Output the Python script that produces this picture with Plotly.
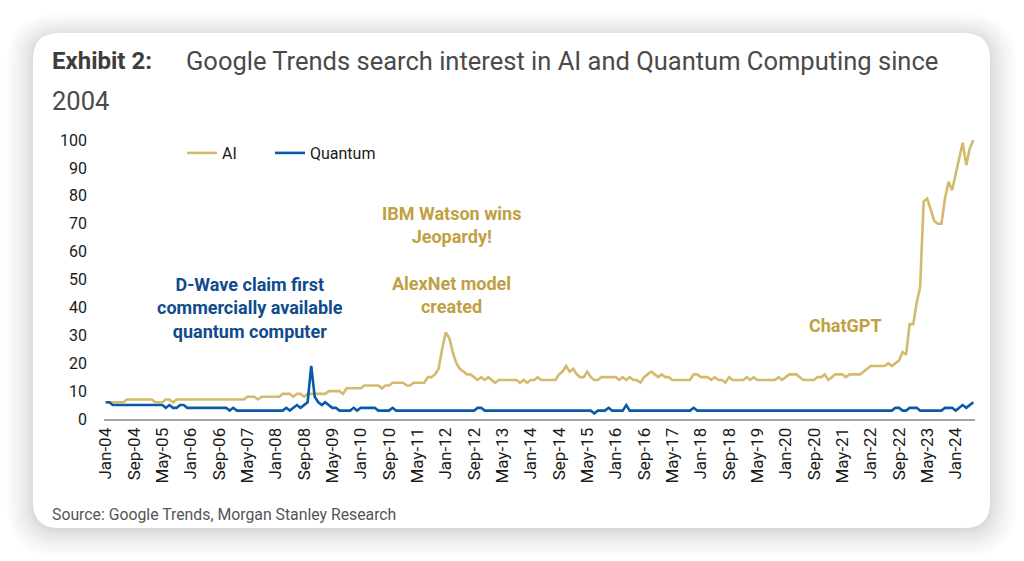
import pandas as pd
import plotly.graph_objects as go

W, H = 1024, 561
L, R, T, B = 104, 975, 140, 419  # plot area in pixels

months = pd.date_range("2004-01-01", periods=246, freq="MS")

ai = [
    6, 6, 6, 6, 6, 6, 7, 7, 7, 7, 7, 7,          # 2004
    7, 7, 6, 6, 6, 7, 7, 6, 7, 7, 7, 7,          # 2005
    7, 7, 7, 7, 7, 7, 7, 7, 7, 7, 7, 7,          # 2006
    7, 7, 7, 7, 8, 8, 8, 7, 8, 8, 8, 8,          # 2007
    8, 8, 9, 9, 9, 8, 9, 9, 8, 9, 9, 9,          # 2008
    9, 9, 9, 10, 10, 10, 10, 9, 11, 11, 11, 11,  # 2009
    11, 12, 12, 12, 12, 12, 11, 12, 12, 13, 13, 13,  # 2010
    13, 12, 12, 13, 13, 13, 13, 15, 15, 16, 18, 25,  # 2011
    31, 29, 24, 20, 18, 17, 16, 16, 15, 14, 15, 14,  # 2012
    15, 14, 13, 14, 14, 14, 14, 14, 14, 13, 14, 13,  # 2013
    14, 14, 15, 14, 14, 14, 14, 14, 16, 17, 19, 17,  # 2014
    18, 16, 15, 15, 17, 15, 14, 14, 15, 15, 15, 15,  # 2015
    15, 14, 15, 14, 15, 14, 14, 13, 15, 16, 17, 16,  # 2016
    15, 16, 15, 15, 14, 14, 14, 14, 14, 14, 16, 16,  # 2017
    15, 15, 15, 14, 15, 14, 14, 13, 15, 14, 14, 14,  # 2018
    14, 15, 14, 15, 14, 14, 14, 14, 14, 14, 15, 14,  # 2019
    15, 16, 16, 16, 15, 14, 14, 14, 14, 15, 15, 16,  # 2020
    14, 15, 16, 16, 16, 15, 16, 16, 16, 16, 17, 18,  # 2021
    19, 19, 19, 19, 19, 20, 19, 20, 21, 24, 23, 34,  # 2022
    34, 42, 47, 78, 79, 75, 71, 70, 70, 79, 85, 82,  # 2023
    88, 93, 99, 91, 97, 100,                         # 2024
]

quantum = [
    6, 6, 5, 5, 5, 5, 5, 5, 5, 5, 5, 5,   # 2004
    5, 5, 5, 5, 5, 4, 5, 4, 4, 5, 5, 4,   # 2005
    4, 4, 4, 4, 4, 4, 4, 4, 4, 4, 4, 3,   # 2006
    4, 3, 3, 3, 3, 3, 3, 3, 3, 3, 3, 3,   # 2007
    3, 3, 3, 4, 3, 4, 5, 4, 5, 6, 19, 8,  # 2008
    6, 5, 6, 5, 4, 4, 3, 3, 3, 3, 4, 3,   # 2009
    4, 4, 4, 4, 4, 3, 3, 3, 3, 4, 3, 3,   # 2010
    3, 3, 3, 3, 3, 3, 3, 3, 3, 3, 3, 3,   # 2011
    3, 3, 3, 3, 3, 3, 3, 3, 3, 4, 4, 3,   # 2012
    3, 3, 3, 3, 3, 3, 3, 3, 3, 3, 3, 3,   # 2013
    3, 3, 3, 3, 3, 3, 3, 3, 3, 3, 3, 3,   # 2014
    3, 3, 3, 3, 3, 3, 2, 3, 3, 3, 4, 3,   # 2015
    3, 3, 3, 5, 3, 3, 3, 3, 3, 3, 3, 3,   # 2016
    3, 3, 3, 3, 3, 3, 3, 3, 3, 3, 4, 3,   # 2017
    3, 3, 3, 3, 3, 3, 3, 3, 3, 3, 3, 3,   # 2018
    3, 3, 3, 3, 3, 3, 3, 3, 3, 3, 3, 3,   # 2019
    3, 3, 3, 3, 3, 3, 3, 3, 3, 3, 3, 3,   # 2020
    3, 3, 3, 3, 3, 3, 3, 3, 3, 3, 3, 3,   # 2021
    3, 3, 3, 3, 3, 3, 3, 4, 4, 3, 3, 4,   # 2022
    4, 4, 3, 3, 3, 3, 3, 3, 3, 4, 4, 4,   # 2023
    3, 4, 5, 4, 5, 6,                     # 2024
]

y_ticks = [0, 10, 20, 30, 40, 50, 60, 70, 80, 90, 100]

annotations_text = {
    "quantum": "D-Wave claim first<br>commercially available<br>quantum computer",
    "watson": "IBM Watson wins<br>Jeopardy!",
    "alexnet": "AlexNet model<br>created",
    "chatgpt": "ChatGPT",
}

GOLD = "#D4BA6C"
GOLD_TXT = "#BFA043"
BLUE = "#0B5AA8"
BLUE_TXT = "#0E4C8E"
FONT = "Roboto"


def px(xp):
    return (xp - L) / (R - L)


def py(yp):
    return (B - yp) / (B - T)


def rounded_rect(x0, y0, x1, y1, r):
    def P(a, b):
        return f"{px(a):.5f},{py(b):.5f}"
    return (
        f"M {P(x0 + r, y0)} L {P(x1 - r, y0)} Q {P(x1, y0)} {P(x1, y0 + r)} "
        f"L {P(x1, y1 - r)} Q {P(x1, y1)} {P(x1 - r, y1)} "
        f"L {P(x0 + r, y1)} Q {P(x0, y1)} {P(x0, y1 - r)} "
        f"L {P(x0, y0 + r)} Q {P(x0, y0)} {P(x0 + r, y0)} Z"
    )


fig = go.Figure()
fig.add_trace(go.Scatter(x=months, y=ai, name="AI", mode="lines",
                         line=dict(color=GOLD, width=2.6), legend="legend"))
fig.add_trace(go.Scatter(x=months, y=quantum, name="Quantum", mode="lines",
                         line=dict(color=BLUE, width=2.6), legend="legend2"))

shapes = []
# soft shadow layers
for g in [26, 22, 18, 14, 11, 8, 5, 3, 1.5]:
    shapes.append(dict(type="path", xref="paper", yref="paper", layer="below",
                       path=rounded_rect(33 - g, 33 - g * 0.8 + 2, 990 + g, 528 + g + 2, 26 + g),
                       fillcolor="rgba(0,0,0,0.017)", line=dict(width=0)))
shapes.append(dict(type="path", xref="paper", yref="paper", layer="below",
                   path=rounded_rect(33, 33, 990, 528, 26),
                   fillcolor="white", line=dict(width=0)))

ann = []


def add_text(text, xp, yp, size, color, bold=False, xanchor="left", yanchor="middle", align="left"):
    ann.append(dict(text=f"<b>{text}</b>" if bold else text, x=px(xp), y=py(yp),
                    xref="paper", yref="paper", showarrow=False,
                    xanchor=xanchor, yanchor=yanchor, align=align,
                    font=dict(family=FONT, size=size, color=color)))


add_text("Exhibit 2:", 50, 61, 24, "#3d3d3d", bold=True)
add_text("Google Trends search interest in AI and Quantum Computing since", 184, 61, 25.5, "#4a4a4a")
add_text("2004", 50, 101, 25.5, "#4a4a4a")
add_text("Source: Google Trends, Morgan Stanley Research", 50, 514, 15.8, "#555555")

add_text(annotations_text["quantum"], 250, 308, 18, BLUE_TXT, bold=True, xanchor="center", align="center")
add_text(annotations_text["watson"], 451, 225, 18, GOLD_TXT, bold=True, xanchor="center", align="center")
add_text(annotations_text["alexnet"], 451, 295, 18, GOLD_TXT, bold=True, xanchor="center", align="center")
add_text(annotations_text["chatgpt"], 845, 325, 18, GOLD_TXT, bold=True, xanchor="center", align="center")

legend_style = dict(orientation="h", y=py(153), xanchor="left", yanchor="middle",
                    bgcolor="rgba(0,0,0,0)", font=dict(family=FONT, size=16, color="#1a1a1a"))

fig.update_layout(
    width=W, height=H,
    margin=dict(l=L, r=W - R, t=T, b=H - B),
    paper_bgcolor="white",
    plot_bgcolor="rgba(0,0,0,0)",
    shapes=shapes,
    annotations=ann,
    showlegend=True,
    legend=dict(x=px(182), **legend_style),
    legend2=dict(x=px(270), **legend_style),
    font=dict(family=FONT),
)
fig.update_xaxes(
    range=["2003-12-17", "2024-06-15"],
    tick0="2004-01-01", dtick="M8", tickformat="%b-%y",
    tickangle=-90, showgrid=False, zeroline=False,
    showline=True, linecolor="#a6a6a6", linewidth=2,
    ticks="", tickfont=dict(family=FONT, size=17, color="#1a1a1a"),
)
fig.update_yaxes(
    range=[0, 100], tickvals=y_ticks, showgrid=False, zeroline=False,
    showline=False, ticks="", ticklabelstandoff=16,
    tickfont=dict(family=FONT, size=16, color="#1a1a1a"),
)
for t in fig.data:
    t.update(cliponaxis=False)

fig.write_html("out.html", config={"displayModeBar": False},
               post_script="document.body.style.margin='0px';")
